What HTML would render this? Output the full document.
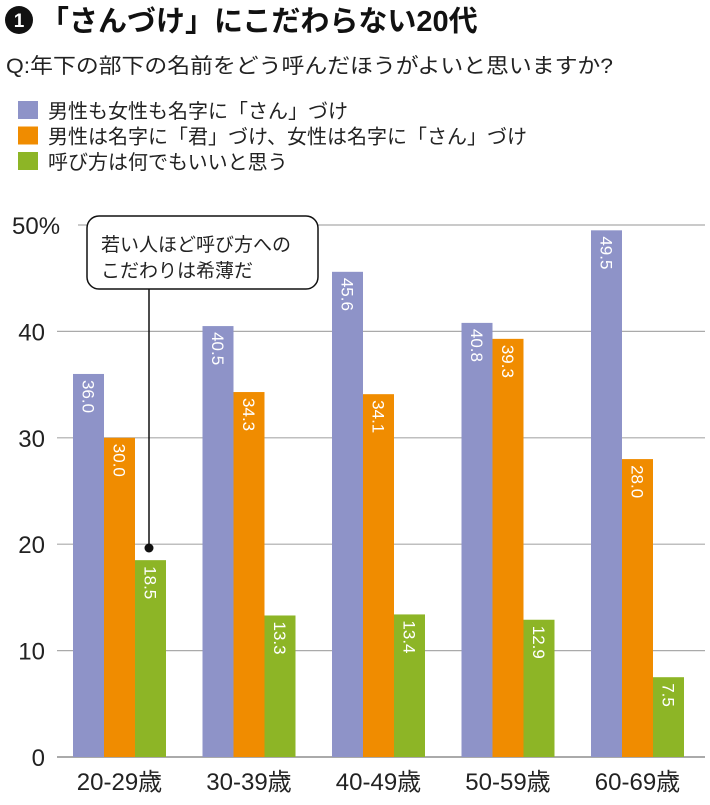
<!DOCTYPE html>
<html><head><meta charset="utf-8">
<style>
body{margin:0;background:#fff;width:710px;height:800px;overflow:hidden;font-family:"Liberation Sans","Noto Sans CJK JP",sans-serif;}
svg text{font-family:"Liberation Sans","Noto Sans CJK JP",sans-serif;}
</style></head><body>
<svg width="710" height="800">
<g>
<circle cx="19" cy="20" r="14" fill="#111"/>
<text x="19" y="27" font-size="19" fill="#fff" text-anchor="middle" font-weight="bold">1</text>
<text x="40" y="31" font-size="29" font-weight="bold" fill="#111">「さんづけ」にこだわらない20代</text>
</g>
<text x="6" y="73" font-size="21" fill="#222" textLength="607" lengthAdjust="spacingAndGlyphs">Q:年下の部下の名前をどう呼んだほうがよいと思いますか?</text>
<g id="legend"></g>
<g id="grid"></g>
<g id="bars"></g>
<g>
<line x1="149" y1="289" x2="149" y2="548" stroke="#111" stroke-width="1.5"/>
<circle cx="149" cy="548" r="4.5" fill="#111"/>
<rect x="87" y="216" width="231" height="73" rx="12" fill="#fff" stroke="#111" stroke-width="1.5"/>
<text x="101" y="251" font-size="19" fill="#222">若い人ほど呼び方への</text>
<text x="101" y="277" font-size="19" fill="#222">こだわりは希薄だ</text>
</g>
</svg>
<script>
const categories=["20-29歳","30-39歳","40-49歳","50-59歳","60-69歳"];
const seriesA=[36.0,40.5,45.6,40.8,49.5];
const seriesB=[30.0,34.3,34.1,39.3,28.0];
const seriesC=[18.5,13.3,13.4,12.9,7.5];
const yTicks=[0,10,20,30,40,50];
const legendLabels=["男性も女性も名字に「さん」づけ","男性は名字に「君」づけ、女性は名字に「さん」づけ","呼び方は何でもいいと思う"];
const colors=["#8e93c8","#f08c00","#8db526"];
const NS="http://www.w3.org/2000/svg";
function y(v){return 757-v*10.64;}
function x(i){return 73+i*129.5;}
const BW=31;
function mk(t,a,p){const e=document.createElementNS(NS,t);for(const k in a)e.setAttribute(k,a[k]);p.appendChild(e);return e;}
const lg=document.getElementById('legend');
legendLabels.forEach((l,i)=>{
 const g=mk('g',{},lg);
 
 
 mk('rect',{x:18,y:101+i*25.5,width:20,height:18,fill:colors[i]},g);
 const t=mk('text',{x:48,y:118+i*25.5,'font-size':20,fill:'#222'},g);t.textContent=l;
});
const gr=document.getElementById('grid');
yTicks.forEach(v=>{
 const l=mk('line',{x1:v===50?78:57,x2:705,y1:y(v),y2:y(v),stroke:'#aaa','stroke-width':v===0?2:1.2},gr);
 
 
 const t=mk('text',{x:v===50?12:45,y:y(v)+9,'font-size':24,fill:'#222','text-anchor':v===50?'start':'end'},gr);
 
 
 t.textContent=v===50?'50%':v;
});
const bg=document.getElementById('bars');
[seriesA,seriesB,seriesC].forEach((s,si)=>{
 s.forEach((v,i)=>{
  const bx=x(i)+si*BW;
  const r=mk('rect',{x:bx,y:y(v),width:BW,height:757-y(v),fill:colors[si]},bg);
  
  
  const cx=bx+BW/2, ty=y(v)+6;
  const t=mk('text',{x:cx-6,y:ty,'font-size':17,fill:'#fff',transform:`rotate(90 ${cx-6} ${ty})`},bg);
  
  
  t.textContent=v.toFixed(1);
 });
});
categories.forEach((c,i)=>{
 const t=mk('text',{x:x(i)+BW*1.5,y:790,'font-size':24,fill:'#222','text-anchor':'middle'},bg);
 
 
 t.textContent=c;
});
</script>
</body></html>
